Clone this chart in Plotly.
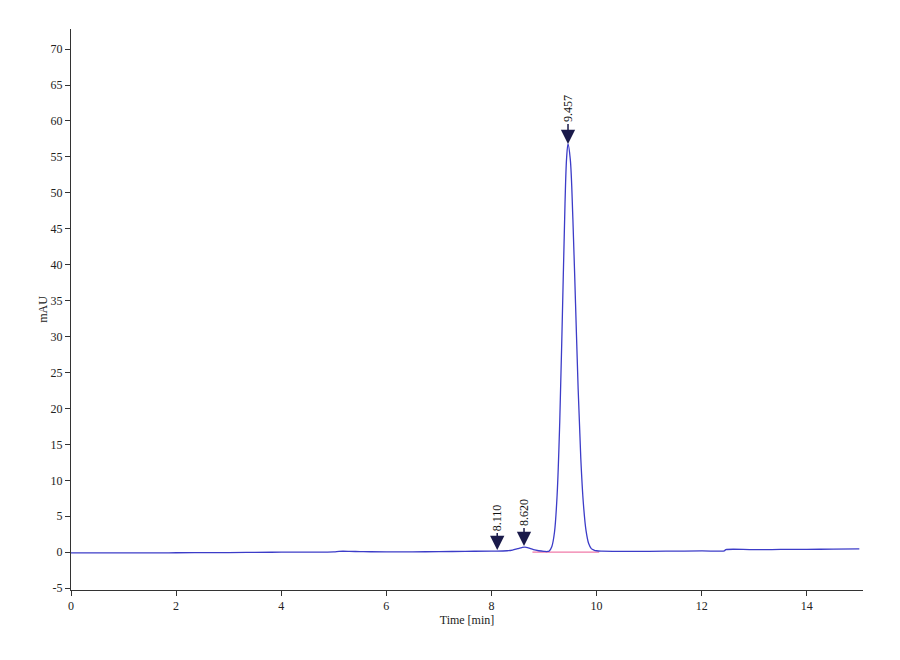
import plotly.graph_objects as go

# chromatogram trace (time in min, signal in mAU)
time_min = [0.0, 1.0, 2.0, 3.0, 3.5, 4.0, 4.5, 5.0, 5.1, 5.3, 5.5, 5.7, 6.0, 6.5, 7.0, 7.5, 8.0,
            8.3, 8.4, 8.5, 8.58, 8.64, 8.7, 8.8, 8.9, 9.0, 9.07, 9.1, 9.15, 9.2, 9.25, 9.3, 9.35,
            9.4, 9.43, 9.457, 9.5, 9.55, 9.6, 9.65, 9.7, 9.75, 9.8, 9.85, 9.9, 9.95, 10.0, 10.1,
            10.5, 11.0, 11.5, 12.0, 12.43, 12.46, 13.0, 13.5, 14.0, 14.5, 15.0]
signal_mau = [-0.1, -0.1, -0.08, -0.05, -0.02, 0.0, 0.02, 0.05, 0.12, 0.12, 0.08, 0.06, 0.05, 0.05, 0.08, 0.12, 0.15,
              0.2, 0.3, 0.5, 0.65, 0.7, 0.6, 0.35, 0.2, 0.12, 0.1, 0.18, 0.8, 2.8, 8.0, 18.2, 33.0,
              48.5, 54.8, 56.8, 54.7, 46.3, 34.6, 22.7, 13.1, 6.7, 3.0, 1.2, 0.5, 0.3, 0.2, 0.15,
              0.12, 0.12, 0.15, 0.18, 0.2, 0.35, 0.35, 0.38, 0.4, 0.42, 0.45]

# integration baseline under the peaks
base_time = [8.78, 10.05]
base_mau = [0.0, 0.0]

# peak labels
peak_times = [8.110, 8.620, 9.457]
peak_heights = [0.3, 0.85, 56.8]
peak_labels = ["8.110", "8.620", "9.457"]
label_offsets = [-32, -33, -35]

# axis ticks
x_ticks = [0, 2, 4, 6, 8, 10, 12, 14]
y_ticks = [-5, 0, 5, 10, 15, 20, 25, 30, 35, 40, 45, 50, 55, 60, 65, 70]
y_tick_text = [str(v) for v in y_ticks]

fig = go.Figure()
fig.add_trace(go.Scatter(x=base_time, y=base_mau, mode="lines",
                         line=dict(color="#f07aa8", width=1.3), showlegend=False))
fig.add_trace(go.Scatter(x=time_min, y=signal_mau, mode="lines", line_shape="spline",
                         line=dict(color="#3c3cc8", width=1.3), showlegend=False))

for t, h, lab, off in zip(peak_times, peak_heights, peak_labels, label_offsets):
    fig.add_annotation(x=t, y=h, text=lab, textangle=-90, showarrow=True,
                       ax=0, ay=off, arrowhead=2, arrowsize=1.9, arrowwidth=1.5,
                       arrowcolor="#1a1a4a", standoff=0,
                       font=dict(family="Liberation Serif", size=12, color="#111"))

axis_style = dict(showline=True, linecolor="#333", linewidth=1, ticks="outside",
                  ticklen=5, tickcolor="#333", showgrid=False, zeroline=False,
                  tickfont=dict(family="Liberation Serif", size=12, color="#222"))

fig.update_layout(
    width=900, height=660,
    margin=dict(l=63, r=45, t=21, b=78),
    plot_bgcolor="white", paper_bgcolor="white",
    xaxis=dict(range=[0, 15.07], tickvals=x_ticks,
               title=dict(text="Time [min]", standoff=3,
                          font=dict(family="Liberation Serif", size=12, color="#222")),
               **axis_style),
    yaxis=dict(range=[-5.26, 72.8], tickvals=y_ticks, ticktext=y_tick_text,
               title=dict(text="mAU", standoff=0,
                          font=dict(family="Liberation Serif", size=12, color="#222")),
               **axis_style),
)

fig.write_html("out.html")
